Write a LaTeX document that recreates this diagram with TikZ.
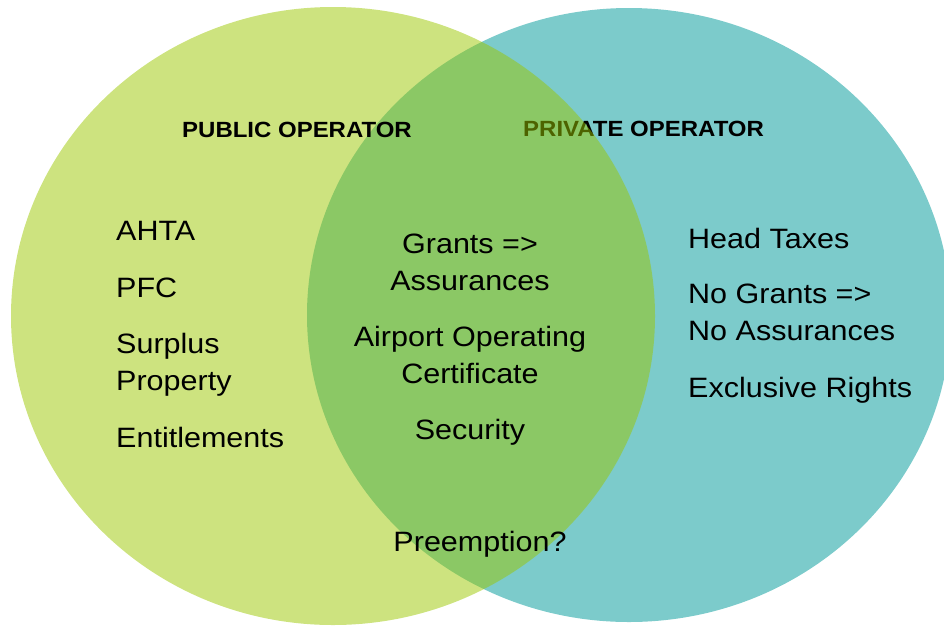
\documentclass[tikz,border=0pt]{standalone}
\usepackage{fontspec}
\setmainfont[FakeStretch=1.09]{Liberation Sans}
\definecolor{privfill}{RGB}{124,203,203}
\definecolor{pubfill}{RGB}{155,199,0}
\begin{document}
\begin{tikzpicture}[x=1pt,y=-1pt,
  heading/.style={inner sep=0pt, anchor=base west, font=\bfseries\fontsize{22}{26}\selectfont},
  item/.style={inner sep=0pt, anchor=base west, align=left, font=\fontsize{28}{37}\selectfont},
  citem/.style={inner sep=0pt, anchor=base, align=center, font=\fontsize{28}{37}\selectfont}]
\useasboundingbox (0,0) rectangle (944,627);
\clip (0,0) rectangle (944,627);
% private operator set (drawn first, its heading sits beneath the public set)
\fill[privfill] (629,315) ellipse [x radius=322pt, y radius=307pt];
\node[heading] (privhead) at (523,136) {PRIVATE OPERATOR};
% public operator set, half transparent
\fill[pubfill, fill opacity=0.5] (333,316) ellipse [x radius=322pt, y radius=309pt];
\node[heading] (pubhead) at (182,137) {PUBLIC OPERATOR};
% public only (two-line nodes are placed by the baseline of their last line)
\node[item] (ahta) at (116,240) {AHTA};
\node[item] (pfc) at (116,297) {PFC};
\node[item] (surplus) at (116,390) {Surplus\\Property};
\node[item] (entitle) at (116,447) {Entitlements};
% shared
\node[citem] (grants) at (470,290) {Grants =>\\Assurances};
\node[citem] (aoc) at (470,383) {Airport Operating\\Certificate};
\node[citem] (security) at (470,439) {Security};
\node[citem] (preempt) at (480,551) {Preemption?};
% private only
\node[item] (head) at (688,248) {Head Taxes};
\node[item] (nogrants) at (688,340) {No Grants =>\\No Assurances};
\node[item] (exclusive) at (688,397) {Exclusive Rights};
\end{tikzpicture}
\end{document}
